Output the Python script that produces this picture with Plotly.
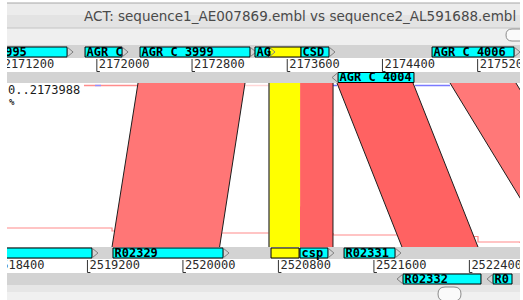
import plotly.graph_objects as go

# ---------------- data ----------------
window_title = "ACT: sequence1_AE007869.embl vs sequence2_AL591688.embl"
seq1_range_text = "0..2173988"
seq1_pct_text = "%"

seq1_view = [2171245, 2175556]      # visible window of sequence 1 (bp)
seq2_view = [2518526, 2522824]      # visible window of sequence 2 (bp)

seq1_ticks = [2171200, 2172000, 2172800, 2173600, 2174400, 2175200]
seq2_ticks = [2518400, 2519200, 2520000, 2520800, 2521600, 2522400]

seq1_fwd_names = ["AGR C 3995", "AGR C", "AGR C 3999", "AG", "CSD", "AGR C 4006"]
seq1_fwd_start = [2170792, 2171901, 2172363, 2173329, 2173716, 2174817]
seq1_fwd_end = [2171750, 2172212, 2173287, 2173447, 2173951, 2175506]

seq1_rev_names = ["AGR C 4004"]
seq1_rev_start = [2174027]
seq1_rev_end = [2174665]

seq2_fwd_names = ["", "R02329", "csp", "R02331"]
seq2_fwd_start = [2517960, 2519414, 2520981, 2521350]
seq2_fwd_end = [2519238, 2520336, 2521215, 2521777]

seq2_rev_names = ["R02332", "R0"]
seq2_rev_start = [2521844, 2522598]
seq2_rev_end = [2522497, 2522757]

selected_seq1 = [2173447, 2173716]
selected_seq2 = [2520738, 2520973]
selected_match_seq1 = [2173447, 2173708]
selected_match_seq2 = [2520721, 2520981]

match_seq1_start = [2172346, 2173708, 2174018, 2174968]
match_seq1_end = [2173245, 2173985, 2174657, 2175522]
match_seq2_start = [2519406, 2520981, 2521835, 2523075]
match_seq2_end = [2520307, 2521257, 2522472, 2523628]

upper_hit_seq1_start = [2171892, 2171985, 2173245, 2173985, 2174674]
upper_hit_seq1_end = [2172346, 2172035, 2173447, 2174018, 2174968]

lower_trace_seq2 = [2518526, 2519406, 2520311, 2520730, 2521258, 2521819, 2522472, 2522824]
lower_trace_level = [228, 231, 233, 233.5, 235, 236.5, 242, 243]

# ---------------- style ----------------
match_colors = ["#ff7676", "#ff6464", "#ff6262", "#ff7878"]
upper_hit_colors = ["#ff8c8c", "#9090ff", "#ffd6d6", "#7070ff", "#7a7aff"]
CYAN = "#00ffff"
YELLOW = "#ffff00"
STRIP = "#d3d3d3"
W, H = 523, 300
PX_L, PX_R = 7, 520
S1_LO, S1_HI = seq1_view
S2_LO, S2_HI = seq2_view
BP1_PX = (S1_HI - S1_LO) / (PX_R - PX_L)
BP2_PX = (S2_HI - S2_LO) / (PX_R - PX_L)

Y_TOP, Y_BOT = 83, 247
ROW_S1_FWD = (47, 57)
ROW_S1_REV = (72.5, 82.5)
ROW_S2_FWD = (248, 258)
ROW_S2_REV = (274, 284)
MONO = "DejaVu Sans Mono"


def on_x(bp2):
    """place a sequence-2 coordinate on the sequence-1 axis (same screen pixels)"""
    return S1_LO + (bp2 - S2_LO) * (S1_HI - S1_LO) / (S2_HI - S2_LO)


fig = go.Figure()


def add(tr):
    tr.update(hoverinfo="skip", showlegend=False)
    fig.add_trace(tr)


def add_box(s, e, row, fill, axis):
    y0, y1 = row
    add(go.Scatter(x=[s, e, e, s, s], y=[y0, y0, y1, y1, y0], mode="lines",
                   fill="toself", fillcolor=fill, line=dict(color="black", width=1),
                   xaxis=axis))


def add_features(names, starts, ends, row, strand, axis, bppx):
    y0, y1 = row
    ym = (y0 + y1) / 2
    head = 6 * bppx
    for n, s, e in zip(names, starts, ends):
        add_box(s, e, row, CYAN, axis)
        hx = [e, e + head, e] if strand > 0 else [s, s - head, s]
        add(go.Scatter(x=hx, y=[y0, ym, y1], mode="lines",
                       line=dict(color="#808080", width=1), xaxis=axis))
        if n:
            add(go.Scatter(x=[s + 1.5 * bppx], y=[ym + 0.5], mode="text", text=[n],
                           textposition="middle right",
                           textfont=dict(family=MONO, size=12, color="black", weight="bold"),
                           xaxis=axis))


def add_ticks(ticks, row, axis, bppx):
    y0, y1 = row
    xs, ys = [], []
    for t in ticks:
        xs += [t, t, t + 3 * bppx, None]
        ys += [y0, y1, y1, None]
    add(go.Scatter(x=xs, y=ys, mode="lines", line=dict(color="#333333", width=1), xaxis=axis))
    add(go.Scatter(x=[t + 2 * bppx for t in ticks], y=[(y0 + y1) / 2] * len(ticks),
                   mode="text", text=[str(t) for t in ticks], textposition="middle right",
                   textfont=dict(family=MONO, size=12, color="#2a2a2a"), xaxis=axis))


# ---- thin distant hits behind the blocks ----
add(go.Scatter(x=[on_x(b) for b in lower_trace_seq2], y=lower_trace_level, mode="lines",
               line=dict(color="#ff8a8a", width=1.2, shape="hv"), xaxis="x"))
for s, e, c in zip(upper_hit_seq1_start, upper_hit_seq1_end, upper_hit_colors):
    add(go.Scatter(x=[s, e], y=[85.5, 85.5], mode="lines", line=dict(color=c, width=1.5), xaxis="x"))

# ---- match blocks ----
edge_x, edge_y = [], []
for a, b, c, d, col in zip(match_seq1_start, match_seq1_end, match_seq2_start, match_seq2_end, match_colors):
    add(go.Scatter(x=[a, b, on_x(d), on_x(c), a], y=[Y_TOP, Y_TOP, Y_BOT, Y_BOT, Y_TOP],
                   mode="lines", fill="toself", fillcolor=col, line=dict(width=0), xaxis="x"))
    for p, q in ((a, c), (b, d)):
        if p in selected_match_seq1:
            continue
        edge_x += [p, on_x(q), None]
        edge_y += [Y_TOP, Y_BOT, None]
add(go.Scatter(x=edge_x, y=edge_y, mode="lines", line=dict(color="#1e1e1e", width=1), xaxis="x"))

# ---- selected match (yellow) ----
sa, sb = selected_match_seq1
sc, sd = selected_match_seq2
add(go.Scatter(x=[sa, sb, on_x(sd), on_x(sc), sa], y=[Y_TOP, Y_TOP, Y_BOT, Y_BOT, Y_TOP],
               mode="lines", fill="toself", fillcolor=YELLOW, line=dict(width=0), xaxis="x"))
add(go.Scatter(x=[sa, on_x(sc)], y=[Y_TOP, Y_BOT], mode="lines",
               line=dict(color="#555555", width=1.5), xaxis="x"))

# ---- sequence 1 features & ruler ----
add_box(selected_seq1[0], selected_seq1[1], ROW_S1_FWD, YELLOW, "x")
add_features(seq1_fwd_names, seq1_fwd_start, seq1_fwd_end, ROW_S1_FWD, 1, "x", BP1_PX)
add_features(seq1_rev_names, seq1_rev_start, seq1_rev_end, ROW_S1_REV, -1, "x", BP1_PX)
add_ticks(seq1_ticks, (59, 71.5), "x", BP1_PX)

# ---- sequence 2 features & ruler ----
add_box(selected_seq2[0], selected_seq2[1], ROW_S2_FWD, YELLOW, "x2")
add_features(seq2_fwd_names, seq2_fwd_start, seq2_fwd_end, ROW_S2_FWD, 1, "x2", BP2_PX)
add_features(seq2_rev_names, seq2_rev_start, seq2_rev_end, ROW_S2_REV, -1, "x2", BP2_PX)
add_ticks(seq2_ticks, (260, 272.5), "x2", BP2_PX)

# ---------------- window chrome (layout shapes) ----------------
def band(y0, y1, color):
    return dict(type="rect", xref="paper", yref="y", x0=PX_L / W, x1=PX_R / W, y0=y0, y1=y1,
                fillcolor=color, line=dict(width=0), layer="below")


def pill(x0, x1, y0, y1):
    r = (y1 - y0) / 2
    rx = r / W
    a, b = x0 / W, x1 / W
    path = (f"M {a + rx},{y0} L {b - rx},{y0} Q {b},{y0} {b},{y0 + r} Q {b},{y1} {b - rx},{y1} "
            f"L {a + rx},{y1} Q {a},{y1} {a},{y0 + r} Q {a},{y0} {a + rx},{y0} Z")
    return dict(type="path", xref="paper", yref="y", path=path, fillcolor="#fafafa",
                line=dict(color="#8c8c8c", width=1), layer="above")


shapes = [
    band(3, 15, "#ececec"),
    band(15, 28, "#e3e3e3"),
    band(28, 45, "#efefef"),
    band(45, 58, STRIP),
    band(72, 83, STRIP),
    band(247, 259, STRIP),
    band(273, 285, STRIP),
    band(285, 292, "#e6e6e6"),
    band(292, 300, "#f0f0f0"),
    dict(type="line", xref="paper", yref="y", x0=PX_L / W, x1=PX_R / W, y0=3, y1=3,
         line=dict(color="#a6a6a6", width=1), layer="below"),
    dict(type="line", xref="paper", yref="y", x0=PX_L / W, x1=PX_R / W, y0=28, y1=28,
         line=dict(color="#c4c4c4", width=1), layer="below"),
    pill(506, 532, 29, 41),
    pill(438, 461, 287, 301),
    dict(type="rect", xref="paper", yref="paper", x0=PX_R / W, x1=1, y0=0, y1=1,
         fillcolor="white", line=dict(width=0), layer="above"),
]

annotations = [
    dict(text=window_title, xref="paper", yref="y", x=300 / W, y=16, showarrow=False,
         xanchor="center", yanchor="middle",
         font=dict(family="DejaVu Sans", size=13.5, color="#4a4a4a")),
    dict(text=seq1_range_text, xref="paper", yref="y", x=PX_L / W, y=89.5, showarrow=False,
         xanchor="left", yanchor="middle", xshift=-1,
         font=dict(family=MONO, size=12, color="#1a1a1a")),
    dict(text=seq1_pct_text, xref="paper", yref="y", x=PX_L / W, y=102, showarrow=False,
         xanchor="left", yanchor="middle",
         font=dict(family=MONO, size=9, color="#1a1a1a", weight="bold")),
]

fig.update_layout(
    width=W, height=H, margin=dict(l=0, r=0, t=0, b=0, pad=0),
    paper_bgcolor="white", plot_bgcolor="rgba(0,0,0,0)", showlegend=False,
    xaxis=dict(range=seq1_view, domain=[PX_L / W, PX_R / W], visible=False, fixedrange=True),
    xaxis2=dict(range=seq2_view, domain=[PX_L / W, PX_R / W], overlaying="x", visible=False,
                fixedrange=True),
    yaxis=dict(range=[H, 0], domain=[0, 1], visible=False, fixedrange=True),
    shapes=shapes, annotations=annotations,
)

fig.write_html(
    "out.html",
    config={"displayModeBar": False},
    post_script="document.body.style.margin='0';document.body.style.overflow='hidden';",
)
